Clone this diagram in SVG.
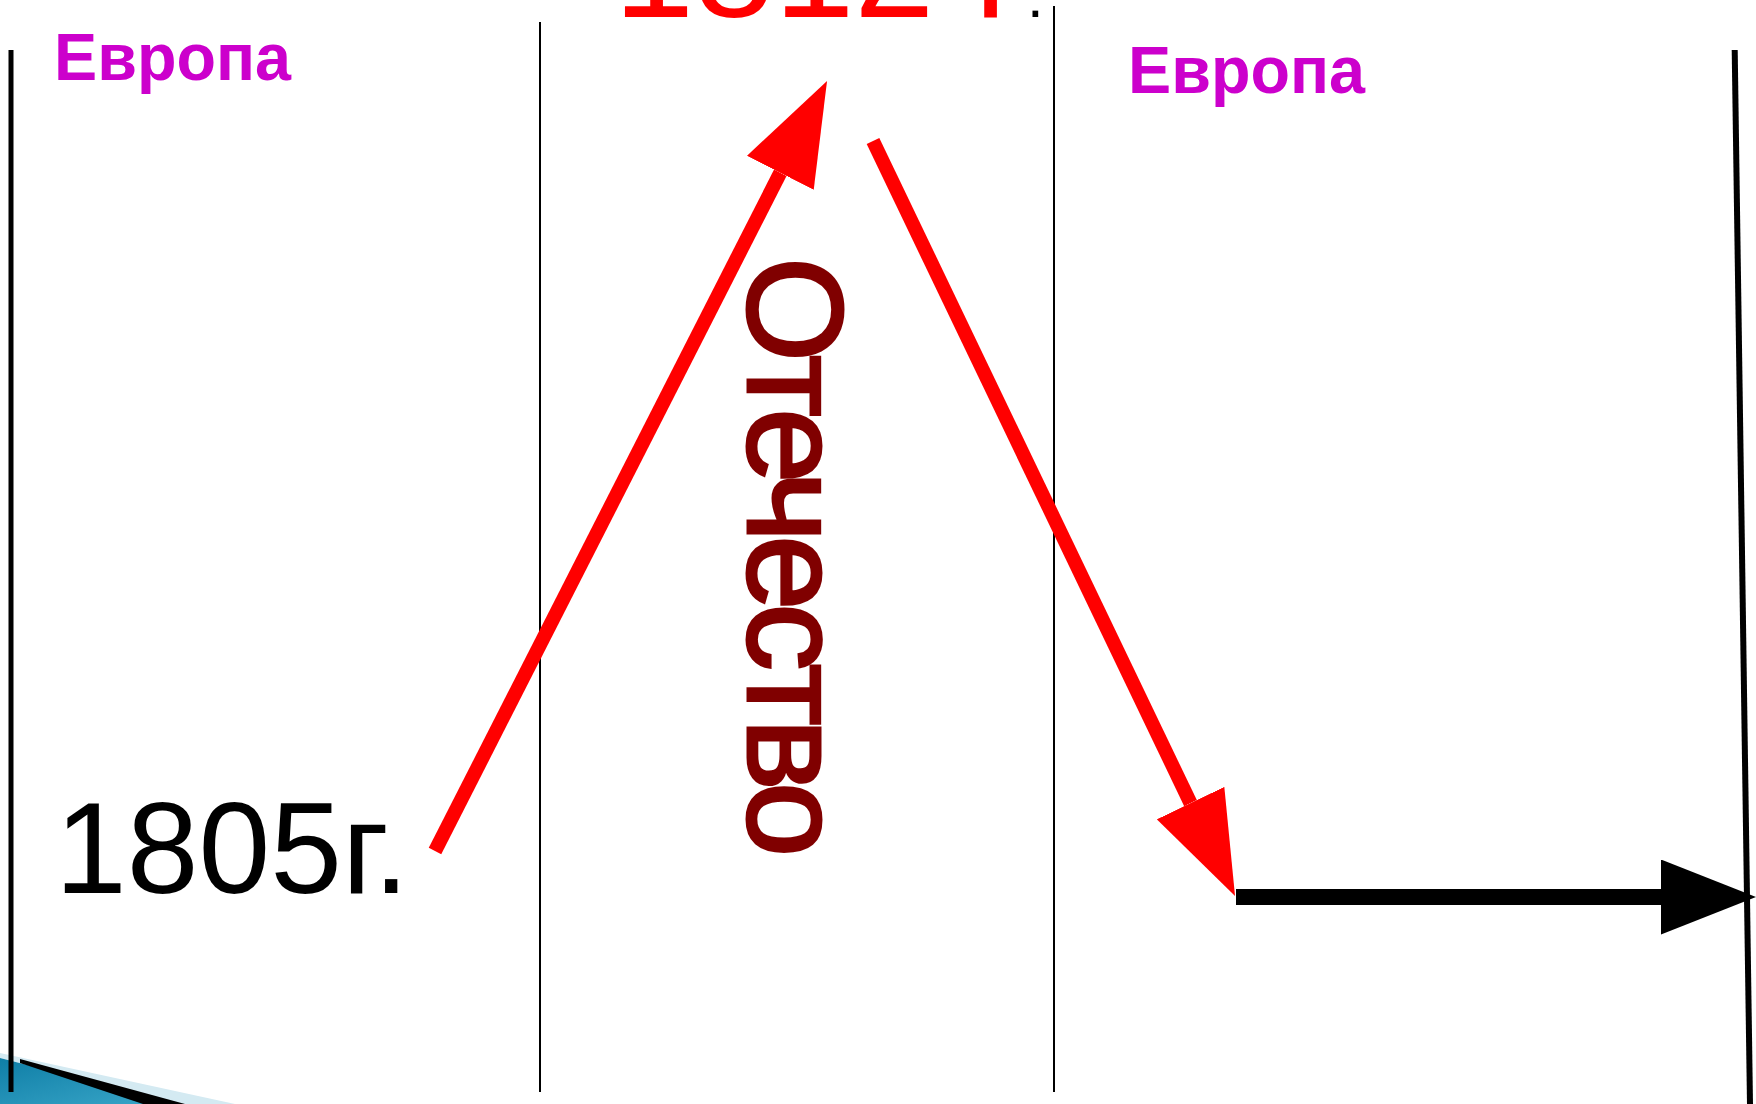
<svg xmlns="http://www.w3.org/2000/svg" width="1756" height="1104" viewBox="0 0 1756 1104">
  <style>
    .vline { stroke: #000; fill: none; }
    .europe { font-family: "Liberation Sans", Arial, sans-serif; font-weight: bold; font-size: 66px; fill: #CC00CC; }
    .year { font-family: "Liberation Sans", Arial, sans-serif; }
    .red-conn { stroke: #FF0000; stroke-width: 14; fill: none; }
    .black-conn { stroke: #000; stroke-width: 16; fill: none; }
  </style>
  <defs>
    <marker id="redHead" markerUnits="userSpaceOnUse" markerWidth="103" markerHeight="75" refX="0" refY="37.5" orient="auto" viewBox="0 0 103 75">
      <path d="M0,0 L103,37.5 L0,75 Z" fill="#FF0000"/>
    </marker>
    <marker id="blackHead" markerUnits="userSpaceOnUse" markerWidth="95" markerHeight="75" refX="0" refY="37.5" orient="auto" viewBox="0 0 95 75">
      <path d="M0,0 L95,37.5 L0,75 Z" fill="#000"/>
    </marker>
    <linearGradient id="teal" x1="0" y1="0" x2="1" y2="1">
      <stop offset="0" stop-color="#0f7ea6"/>
      <stop offset="1" stop-color="#3aa7c9"/>
    </linearGradient>
  </defs>
  <rect width="1756" height="1104" fill="#fff"/>

  <g id="corner-decoration">
    <polygon points="0,1053 235,1104 180,1104 0,1058" fill="#d4eaf2"/>
    <polygon points="0,1058 180,1104 0,1104" fill="url(#teal)"/>
    <polygon points="20,1059 185,1104 143,1104 20,1063" fill="#000"/>
  </g>

  <g id="grid-lines">
    <line class="vline" x1="11" y1="50" x2="11" y2="1092" stroke-width="5"/>
    <line class="vline" x1="540" y1="22" x2="540" y2="1092" stroke-width="2"/>
    <line class="vline" x1="1054" y1="6" x2="1054" y2="1092" stroke-width="2"/>
    <line class="vline" x1="1734.7" y1="50" x2="1750" y2="1104" stroke-width="6"/>
  </g>

  <g id="node-europe-left">
    <text class="europe" x="54" y="80" textLength="237" lengthAdjust="spacingAndGlyphs">Европа</text>
  </g>
  <g id="node-europe-right">
    <text class="europe" x="1128" y="93" textLength="237" lengthAdjust="spacingAndGlyphs">Европа</text>
  </g>
  <g id="node-1812">
    <text class="year" x="614" y="17" font-size="144" fill="#FF0000">1812 г<tspan font-size="60" fill="#000">.</tspan></text>
  </g>
  <g id="node-1805">
    <text class="year" x="55" y="893" font-size="129" fill="#000">1805г.</text>
  </g>
  <g id="node-fatherland">
    <text class="year" transform="translate(748,257) rotate(90)" x="0" y="0" font-size="135" fill="#800000" stroke="#800000" stroke-width="3" textLength="600" lengthAdjust="spacing">Отечество</text>
  </g>

  <g id="connectors">
    <line class="red-conn" x1="435" y1="851" x2="780.3" y2="172.8" marker-end="url(#redHead)"/>
    <line class="red-conn" x1="873" y1="141" x2="1190.5" y2="803.1" marker-end="url(#redHead)"/>
    <line class="black-conn" x1="1236" y1="897" x2="1661" y2="897" marker-end="url(#blackHead)"/>
  </g>
</svg>
